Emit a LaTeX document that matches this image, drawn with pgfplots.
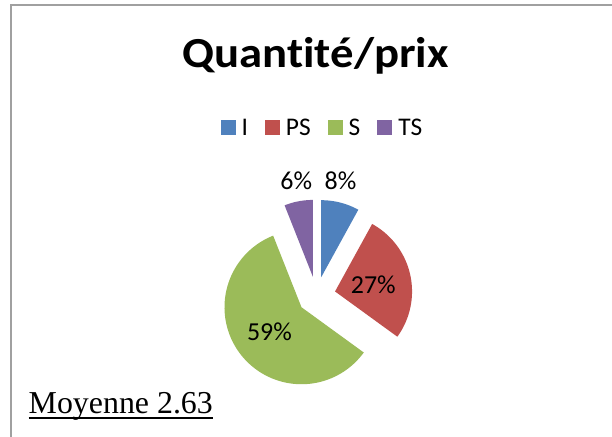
\documentclass[border=0pt]{standalone}
\usepackage{pgfplots}
\pgfplotsset{compat=1.18}
\usepackage{fontspec}
\setmainfont[Ligatures={NoCommon}]{Carlito}
\newfontfamily\timesfont{Liberation Serif}
\definecolor{cI}{HTML}{4F81BD}
\definecolor{cPS}{HTML}{C0504D}
\definecolor{cS}{HTML}{9BBB59}
\definecolor{cTS}{HTML}{8064A2}
\definecolor{framegray}{HTML}{A0A0A0}
% pie geometry (bp): centre, radius, explosion
\def\pcx{316.5}\def\pcy{141.4}\def\pr{77}\def\pd{19}
% #1 = cumulative percent before slice, #2 = slice percent, #3 = colour
\newcommand{\slice}[3]{%
  \pgfmathsetmacro{\aS}{90-3.6*#1}%
  \pgfmathsetmacro{\aE}{90-3.6*(#1+#2)}%
  \pgfmathsetmacro{\aM}{(\aS+\aE)/2}%
  \pgfmathsetmacro{\scx}{\pcx+\pd*cos(\aM)}%
  \pgfmathsetmacro{\scy}{\pcy+\pd*sin(\aM)}%
  \edef\doslice{\noexpand\addplot[fill=#3, draw=none, domain=\aE:\aS, samples=90]
    ({\scx+\pr*cos(x)},{\scy+\pr*sin(x)}) -- (axis cs:\scx,\scy) -- cycle;}%
  \doslice
}
\begin{document}
\begin{tikzpicture}
\begin{axis}[
  x=1bp, y=1bp, xmin=0, xmax=612, ymin=0, ymax=437,
  scale only axis, hide axis, clip=false,
  at={(0,0)}, anchor=south west,
  legend entries={I,PS,S,TS},
  legend columns=4,
  legend image code/.code={\fill[#1] (0bp,-7.5bp) rectangle (15bp,7.5bp);},
  legend style={draw=none, fill=none, inner sep=0pt,
    at={(axis cs:321.4,309)}, anchor=center,
    font=\fontsize{25.5}{31}\selectfont,
    nodes={inner sep=0pt},
    /tikz/every odd column/.append style={column sep=6bp},
    /tikz/every even column/.append style={column sep=17bp}},
]
% values (percent): I = 8, PS = 27, S = 59, TS = 6
\slice{0}{8}{cI}
\slice{8}{27}{cPS}
\slice{35}{59}{cS}
\slice{94}{6}{cTS}

\node[font=\fontsize{26}{31}\selectfont, anchor=base] at (axis cs:296.3,247) {6\%};
\node[font=\fontsize{26}{31}\selectfont, anchor=base] at (axis cs:340.5,247) {8\%};
\node[font=\fontsize{26}{31}\selectfont, anchor=base] at (axis cs:373.3,143.7) {27\%};
\node[font=\fontsize{26}{31}\selectfont, anchor=base] at (axis cs:269.5,96) {59\%};

\node[font=\bfseries\fontsize{43}{52}\selectfont, anchor=base] at (axis cs:315.5,369.7) {\scalebox{1.09}[1]{Quantité/prix}};

\node[font=\timesfont\fontsize{32}{38}\selectfont, anchor=base west, inner sep=0pt] (moy) at (axis cs:28.5,23) {Moyenne 2.63};
\draw[line width=1.8bp] ([yshift=-4bp]moy.base west) -- ([yshift=-4bp]moy.base east);
\end{axis}
\draw[line width=2bp, framegray] (10.7bp,-10bp) -- (10.7bp,431.7bp) -- (640bp,431.7bp);
\pgfresetboundingbox
\useasboundingbox (0,0) rectangle (612bp,437bp);
\end{tikzpicture}
\end{document}
